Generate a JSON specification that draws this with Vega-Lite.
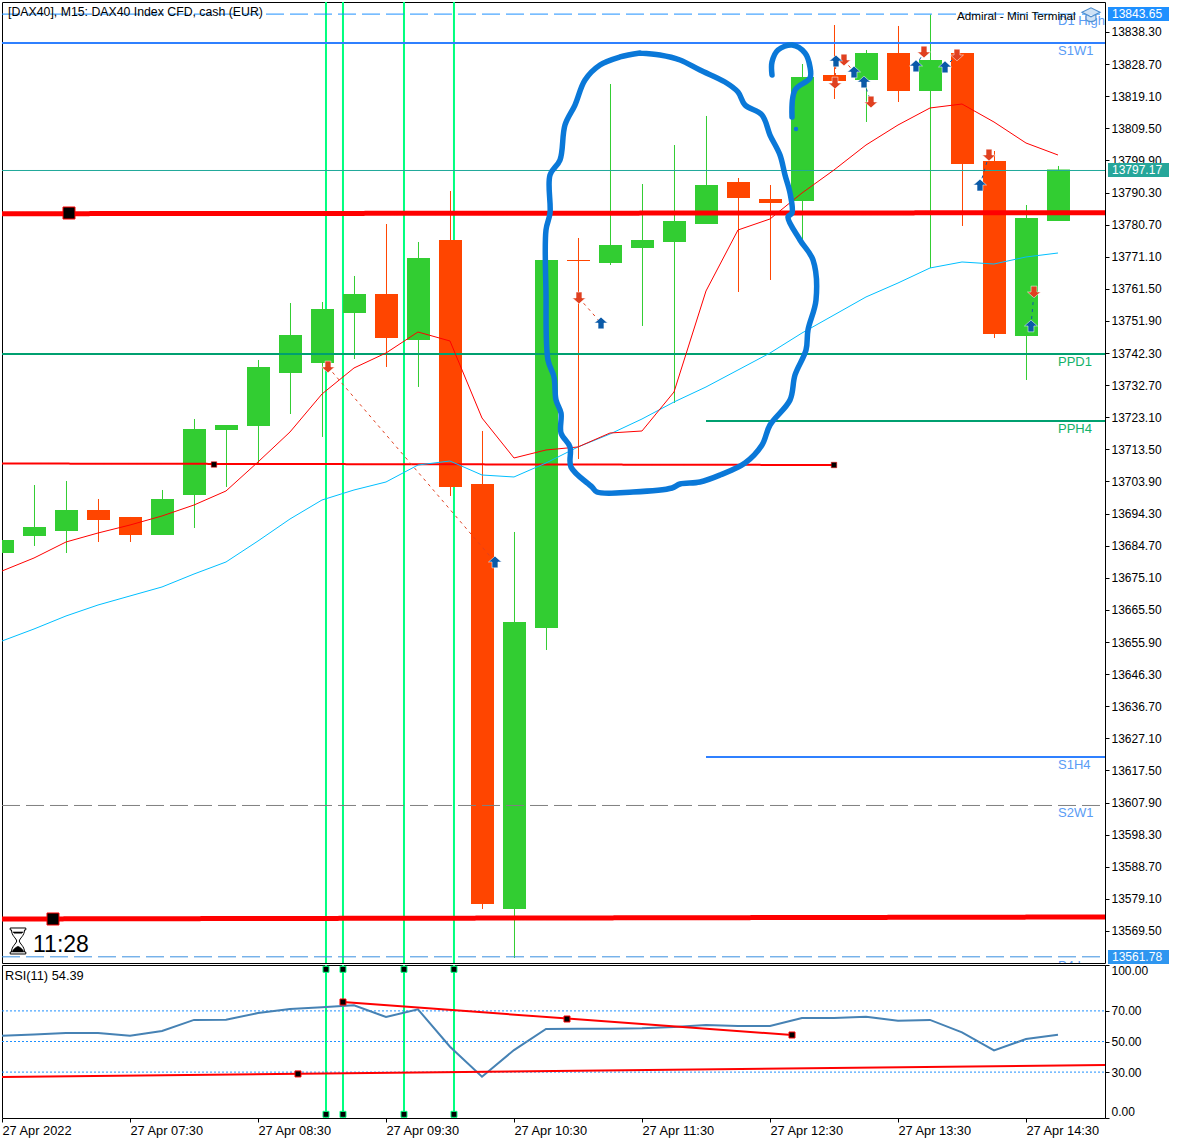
{
"$schema":"https://vega.github.io/schema/vega-lite/v6.json",
"padding":{"left":-3,"top":1,"right":0,"bottom":0},
"background":"white",
"bounds":"flush",
"spacing":2,
"config":{"view":{"stroke":"#000","strokeWidth":1},"font":"Liberation Sans","text":{"font":"Liberation Sans"}},
"datasets":{
"candles":[
{"t":"2022-04-27T06:30:00","dir":"up","o":13682.52,"c":13686.41,"h":13686.41,"l":13682.52},
{"t":"2022-04-27T06:45:00","dir":"up","o":13687.61,"c":13690.30,"h":13702.85,"l":13684.62},
{"t":"2022-04-27T07:00:00","dir":"up","o":13689.10,"c":13695.38,"h":13704.05,"l":13682.52},
{"t":"2022-04-27T07:15:00","dir":"down","o":13695.38,"c":13692.39,"h":13698.67,"l":13685.81},
{"t":"2022-04-27T07:30:00","dir":"down","o":13693.29,"c":13687.90,"h":13693.29,"l":13685.81},
{"t":"2022-04-27T07:45:00","dir":"up","o":13687.90,"c":13698.67,"h":13701.36,"l":13687.90},
{"t":"2022-04-27T08:00:00","dir":"up","o":13699.86,"c":13719.60,"h":13722.59,"l":13690.00},
{"t":"2022-04-27T08:15:00","dir":"up","o":13719.30,"c":13720.79,"h":13720.79,"l":13702.26},
{"t":"2022-04-27T08:30:00","dir":"up","o":13720.50,"c":13738.14,"h":13740.23,"l":13708.83},
{"t":"2022-04-27T08:45:00","dir":"up","o":13736.34,"c":13747.70,"h":13757.27,"l":13724.08},
{"t":"2022-04-27T09:00:00","dir":"up","o":13739.33,"c":13755.48,"h":13757.57,"l":13717.21},
{"t":"2022-04-27T09:15:00","dir":"up","o":13754.28,"c":13759.96,"h":13765.35,"l":13740.53},
{"t":"2022-04-27T09:30:00","dir":"down","o":13759.96,"c":13746.81,"h":13780.89,"l":13738.14},
{"t":"2022-04-27T09:45:00","dir":"up","o":13746.21,"c":13770.73,"h":13775.51,"l":13732.16},
{"t":"2022-04-27T10:00:00","dir":"down","o":13776.11,"c":13702.26,"h":13790.76,"l":13699.57},
{"t":"2022-04-27T10:15:00","dir":"down","o":13703.15,"c":13577.57,"h":13719.00,"l":13576.08},
{"t":"2022-04-27T10:30:00","dir":"up","o":13576.08,"c":13661.89,"h":13688.80,"l":13561.43},
{"t":"2022-04-27T10:45:00","dir":"up","o":13660.10,"c":13770.13,"h":13770.13,"l":13653.52},
{"t":"2022-04-27T11:00:00","dir":"down","o":13770.13,"c":13769.83,"h":13776.71,"l":13710.63},
{"t":"2022-04-27T11:15:00","dir":"up","o":13769.23,"c":13774.61,"h":13822.75,"l":13768.63},
{"t":"2022-04-27T11:30:00","dir":"up","o":13773.72,"c":13776.11,"h":13792.85,"l":13750.40},
{"t":"2022-04-27T11:45:00","dir":"up","o":13775.51,"c":13781.79,"h":13804.51,"l":13727.37},
{"t":"2022-04-27T12:00:00","dir":"up","o":13780.89,"c":13792.55,"h":13813.19,"l":13780.89},
{"t":"2022-04-27T12:15:00","dir":"down","o":13793.45,"c":13788.67,"h":13794.65,"l":13760.56},
{"t":"2022-04-27T12:30:00","dir":"down","o":13788.37,"c":13787.17,"h":13792.55,"l":13764.15},
{"t":"2022-04-27T12:45:00","dir":"up","o":13787.77,"c":13824.85,"h":13828.73,"l":13776.11},
{"t":"2022-04-27T13:00:00","dir":"down","o":13825.44,"c":13823.65,"h":13840.39,"l":13818.27},
{"t":"2022-04-27T13:15:00","dir":"up","o":13823.95,"c":13832.02,"h":13832.92,"l":13811.39},
{"t":"2022-04-27T13:30:00","dir":"down","o":13832.02,"c":13820.66,"h":13840.10,"l":13817.37},
{"t":"2022-04-27T13:45:00","dir":"up","o":13820.66,"c":13829.93,"h":13843.53,"l":13767.74},
{"t":"2022-04-27T14:00:00","dir":"down","o":13832.02,"c":13798.83,"h":13832.02,"l":13780.30},
{"t":"2022-04-27T14:15:00","dir":"down","o":13799.73,"c":13748.00,"h":13802.72,"l":13746.81},
{"t":"2022-04-27T14:30:00","dir":"up","o":13747.41,"c":13782.69,"h":13786.57,"l":13734.25},
{"t":"2022-04-27T14:45:00","dir":"up","o":13781.79,"c":13797.17,"h":13798.24,"l":13781.79}
],
"ma":[
{"t":"2022-04-27T06:30:00","fast":13677.14,"slow":13656.21},
{"t":"2022-04-27T06:45:00","fast":13681.03,"slow":13659.80},
{"t":"2022-04-27T07:00:00","fast":13685.81,"slow":13663.69},
{"t":"2022-04-27T07:15:00","fast":13688.50,"slow":13666.97},
{"t":"2022-04-27T07:30:00","fast":13690.89,"slow":13669.67},
{"t":"2022-04-27T07:45:00","fast":13693.59,"slow":13672.36},
{"t":"2022-04-27T08:00:00","fast":13696.87,"slow":13676.24},
{"t":"2022-04-27T08:15:00","fast":13701.06,"slow":13679.83},
{"t":"2022-04-27T08:30:00","fast":13709.73,"slow":13686.11},
{"t":"2022-04-27T08:45:00","fast":13718.70,"slow":13692.69},
{"t":"2022-04-27T09:00:00","fast":13730.06,"slow":13698.37},
{"t":"2022-04-27T09:15:00","fast":13737.84,"slow":13701.36},
{"t":"2022-04-27T09:30:00","fast":13742.32,"slow":13703.75},
{"t":"2022-04-27T09:45:00","fast":13748.60,"slow":13708.83},
{"t":"2022-04-27T10:00:00","fast":13745.91,"slow":13710.03},
{"t":"2022-04-27T10:15:00","fast":13722.89,"slow":13705.84},
{"t":"2022-04-27T10:30:00","fast":13710.93,"slow":13705.25},
{"t":"2022-04-27T10:45:00","fast":13713.32,"slow":13709.43},
{"t":"2022-04-27T11:00:00","fast":13714.22,"slow":13714.22},
{"t":"2022-04-27T11:15:00","fast":13718.40,"slow":13718.10},
{"t":"2022-04-27T11:30:00","fast":13719.00,"slow":13722.59},
{"t":"2022-04-27T11:45:00","fast":13730.66,"slow":13727.67},
{"t":"2022-04-27T12:00:00","fast":13760.86,"slow":13732.16},
{"t":"2022-04-27T12:15:00","fast":13779.10,"slow":13737.24},
{"t":"2022-04-27T12:30:00","fast":13782.39,"slow":13742.32},
{"t":"2022-04-27T12:45:00","fast":13790.16,"slow":13748.30},
{"t":"2022-04-27T13:00:00","fast":13797.04,"slow":13753.68},
{"t":"2022-04-27T13:15:00","fast":13804.51,"slow":13759.07},
{"t":"2022-04-27T13:30:00","fast":13810.49,"slow":13763.25},
{"t":"2022-04-27T13:45:00","fast":13815.58,"slow":13767.74},
{"t":"2022-04-27T14:00:00","fast":13816.77,"slow":13769.53},
{"t":"2022-04-27T14:15:00","fast":13811.39,"slow":13768.93},
{"t":"2022-04-27T14:30:00","fast":13805.11,"slow":13771.03},
{"t":"2022-04-27T14:45:00","fast":13801.52,"slow":13772.22}
],
"levels":[
{"level":"D1 High","t":"2022-04-27T06:30:00","p":13843.65},{"level":"D1 High","t":"2022-04-27T15:07:02","p":13843.65},
{"level":"S1W1","t":"2022-04-27T06:30:00","p":13835.01},{"level":"S1W1","t":"2022-04-27T15:07:02","p":13835.01},
{"level":"Last","t":"2022-04-27T06:30:00","p":13796.89},{"level":"Last","t":"2022-04-27T15:07:02","p":13796.89},
{"level":"Upper trend","t":"2022-04-27T06:30:00","p":13783.97},{"level":"Upper trend","t":"2022-04-27T15:07:02","p":13784.27},
{"level":"PPD1","t":"2022-04-27T06:30:00","p":13742.02},{"level":"PPD1","t":"2022-04-27T15:07:02","p":13742.02},
{"level":"PPH4","t":"2022-04-27T12:00:00","p":13721.99},{"level":"PPH4","t":"2022-04-27T15:07:02","p":13721.99},
{"level":"S1H4","t":"2022-04-27T12:00:00","p":13621.53},{"level":"S1H4","t":"2022-04-27T15:07:02","p":13621.53},
{"level":"S2W1","t":"2022-04-27T06:30:00","p":13607.03},{"level":"S2W1","t":"2022-04-27T15:04:41","p":13607.03},
{"level":"Lower trend","t":"2022-04-27T06:30:00","p":13573.09},{"level":"Lower trend","t":"2022-04-27T15:07:02","p":13573.69},
{"level":"Mid trend","t":"2022-04-27T06:30:00","p":13709.28},{"level":"Mid trend","t":"2022-04-27T13:00:00","p":13708.83},
{"level":"D1 Low","t":"2022-04-27T06:30:00","p":13561.78},{"level":"D1 Low","t":"2022-04-27T15:07:02","p":13561.78}
],
"levelLabels":[
{"text":"D1 High","kind":"blue","t":"2022-04-27T14:45:00","p":13841.7},
{"text":"S1W1","kind":"blue","t":"2022-04-27T14:45:00","p":13832.6},
{"text":"PPD1","kind":"green","t":"2022-04-27T14:45:00","p":13739.6},
{"text":"PPH4","kind":"green","t":"2022-04-27T14:45:00","p":13719.6},
{"text":"S1H4","kind":"blue","t":"2022-04-27T14:45:00","p":13619.1},
{"text":"S2W1","kind":"blue","t":"2022-04-27T14:45:00","p":13604.8},
{"text":"P4 L","kind":"blue","t":"2022-04-27T14:45:00","p":13558.9}
],
"anchors":[
{"kind":"big","t":"2022-04-27T07:01:24","p":13784.18},
{"kind":"big","t":"2022-04-27T06:53:54","p":13573.09},
{"kind":"small","t":"2022-04-27T08:09:22","p":13708.98},
{"kind":"small","t":"2022-04-27T13:00:00","p":13708.83}
],
"events":[
{"id":"e1","t":"2022-04-27T09:01:52","p":13559.93,"v":0},{"id":"e1","t":"2022-04-27T09:01:52","p":13847.27,"v":100},
{"id":"e2","t":"2022-04-27T09:09:50","p":13559.93,"v":0},{"id":"e2","t":"2022-04-27T09:09:50","p":13847.27,"v":100},
{"id":"e3","t":"2022-04-27T09:38:26","p":13559.93,"v":0},{"id":"e3","t":"2022-04-27T09:38:26","p":13847.27,"v":100},
{"id":"e4","t":"2022-04-27T10:01:52","p":13559.93,"v":0},{"id":"e4","t":"2022-04-27T10:01:52","p":13847.27,"v":100}
],
"trades":[
{"id":"a","side":"sell","t":"2022-04-27T09:02:49","p":13738.14},{"id":"a","side":"sell","t":"2022-04-27T10:21:05","p":13679.83},
{"id":"b","side":"sell","t":"2022-04-27T11:00:28","p":13758.77},{"id":"b","side":"sell","t":"2022-04-27T11:10:47","p":13751.29},
{"id":"c","side":"sell","t":"2022-04-27T13:00:28","p":13823.05},{"id":"c","side":"sell","t":"2022-04-27T13:00:56","p":13829.63},
{"id":"d","side":"sell","t":"2022-04-27T13:04:41","p":13829.93},{"id":"d","side":"sell","t":"2022-04-27T13:09:23","p":13826.34},
{"id":"e","side":"buy","t":"2022-04-27T13:14:04","p":13823.35},{"id":"e","side":"buy","t":"2022-04-27T13:17:20","p":13817.37},
{"id":"f","side":"buy","t":"2022-04-27T13:38:26","p":13828.14},{"id":"f","side":"buy","t":"2022-04-27T13:42:11","p":13832.32},
{"id":"g","side":"buy","t":"2022-04-27T13:52:02","p":13827.84},{"id":"g","side":"buy","t":"2022-04-27T13:57:39","p":13831.42},
{"id":"h","side":"buy","t":"2022-04-27T14:08:26","p":13792.55},{"id":"h","side":"buy","t":"2022-04-27T14:12:39","p":13801.52},
{"id":"i","side":"buy","t":"2022-04-27T14:32:20","p":13750.40},{"id":"i","side":"buy","t":"2022-04-27T14:33:45","p":13760.56}
],
"arrows":[
{"side":"sell","t":"2022-04-27T09:02:49","p":13738.14},
{"side":"sell","t":"2022-04-27T11:00:28","p":13758.77},
{"side":"sell","t":"2022-04-27T13:00:28","p":13823.05},
{"side":"sell","t":"2022-04-27T13:04:41","p":13829.93},
{"side":"sell","t":"2022-04-27T13:17:20","p":13817.37},
{"side":"sell","t":"2022-04-27T13:42:11","p":13832.32},
{"side":"sell","t":"2022-04-27T13:57:39","p":13831.42},
{"side":"sell","t":"2022-04-27T14:12:39","p":13801.52},
{"side":"sell","t":"2022-04-27T14:33:45","p":13760.56},
{"side":"buy","t":"2022-04-27T10:21:05","p":13679.83},
{"side":"buy","t":"2022-04-27T11:10:47","p":13751.29},
{"side":"buy","t":"2022-04-27T13:00:56","p":13829.63},
{"side":"buy","t":"2022-04-27T13:09:23","p":13826.34},
{"side":"buy","t":"2022-04-27T13:14:04","p":13823.35},
{"side":"buy","t":"2022-04-27T13:38:26","p":13828.14},
{"side":"buy","t":"2022-04-27T13:52:02","p":13827.84},
{"side":"buy","t":"2022-04-27T14:08:26","p":13792.55},
{"side":"buy","t":"2022-04-27T14:32:20","p":13750.40}
],
"scribble":[
{"id":"loop","o":1,"t":"2022-04-27T11:29:04","p":13832.02},{"id":"loop","o":2,"t":"2022-04-27T11:38:26","p":13831.42},
{"id":"loop","o":3,"t":"2022-04-27T11:47:49","p":13829.93},{"id":"loop","o":4,"t":"2022-04-27T11:57:11","p":13826.94},
{"id":"loop","o":5,"t":"2022-04-27T12:08:54","p":13823.35},{"id":"loop","o":6,"t":"2022-04-27T12:15:00","p":13820.36},
{"id":"loop","o":7,"t":"2022-04-27T12:18:17","p":13816.47},{"id":"loop","o":8,"t":"2022-04-27T12:26:15","p":13813.48},
{"id":"loop","o":9,"t":"2022-04-27T12:30:00","p":13807.50},{"id":"loop","o":10,"t":"2022-04-27T12:34:41","p":13801.52},
{"id":"loop","o":11,"t":"2022-04-27T12:37:02","p":13795.54},{"id":"loop","o":12,"t":"2022-04-27T12:39:23","p":13790.16},
{"id":"loop","o":13,"t":"2022-04-27T12:40:19","p":13784.18},{"id":"loop","o":14,"t":"2022-04-27T12:38:26","p":13782.99},
{"id":"loop","o":15,"t":"2022-04-27T12:44:04","p":13776.11},{"id":"loop","o":16,"t":"2022-04-27T12:50:09","p":13770.13},
{"id":"loop","o":17,"t":"2022-04-27T12:51:34","p":13758.17},{"id":"loop","o":18,"t":"2022-04-27T12:47:49","p":13749.20},
{"id":"loop","o":19,"t":"2022-04-27T12:46:53","p":13743.22},{"id":"loop","o":20,"t":"2022-04-27T12:41:43","p":13735.74},
{"id":"loop","o":21,"t":"2022-04-27T12:39:23","p":13728.27},{"id":"loop","o":22,"t":"2022-04-27T12:30:00","p":13720.79},
{"id":"loop","o":23,"t":"2022-04-27T12:26:15","p":13714.81},{"id":"loop","o":24,"t":"2022-04-27T12:18:17","p":13709.43},
{"id":"loop","o":25,"t":"2022-04-27T12:06:34","p":13705.84},{"id":"loop","o":26,"t":"2022-04-27T11:57:11","p":13703.75},
{"id":"loop","o":27,"t":"2022-04-27T11:47:49","p":13703.15},{"id":"loop","o":28,"t":"2022-04-27T11:44:04","p":13701.96},
{"id":"loop","o":29,"t":"2022-04-27T11:25:47","p":13700.76},{"id":"loop","o":30,"t":"2022-04-27T11:08:54","p":13700.76},
{"id":"loop","o":31,"t":"2022-04-27T11:06:34","p":13702.26},{"id":"loop","o":32,"t":"2022-04-27T10:56:43","p":13708.24},
{"id":"loop","o":33,"t":"2022-04-27T10:56:15","p":13714.22},{"id":"loop","o":34,"t":"2022-04-27T10:52:02","p":13718.40},
{"id":"loop","o":35,"t":"2022-04-27T10:52:02","p":13724.38},{"id":"loop","o":36,"t":"2022-04-27T10:49:41","p":13728.27},
{"id":"loop","o":37,"t":"2022-04-27T10:48:45","p":13735.15},{"id":"loop","o":38,"t":"2022-04-27T10:45:56","p":13740.23},
{"id":"loop","o":39,"t":"2022-04-27T10:45:00","p":13760.26},{"id":"loop","o":40,"t":"2022-04-27T10:45:00","p":13779.10},
{"id":"loop","o":41,"t":"2022-04-27T10:46:53","p":13784.18},{"id":"loop","o":42,"t":"2022-04-27T10:46:53","p":13795.54},
{"id":"loop","o":43,"t":"2022-04-27T10:51:34","p":13800.03},{"id":"loop","o":44,"t":"2022-04-27T10:53:54","p":13810.49},
{"id":"loop","o":45,"t":"2022-04-27T10:58:35","p":13816.47},{"id":"loop","o":46,"t":"2022-04-27T11:03:17","p":13823.95},
{"id":"loop","o":47,"t":"2022-04-27T11:10:19","p":13828.43},{"id":"loop","o":48,"t":"2022-04-27T11:19:41","p":13830.83},
{"id":"loop","o":49,"t":"2022-04-27T11:29:04","p":13832.02},
{"id":"hook","o":1,"t":"2022-04-27T12:30:56","p":13825.44},{"id":"hook","o":2,"t":"2022-04-27T12:30:56","p":13829.33},
{"id":"hook","o":3,"t":"2022-04-27T12:33:45","p":13832.92},{"id":"hook","o":4,"t":"2022-04-27T12:40:19","p":13834.41},
{"id":"hook","o":5,"t":"2022-04-27T12:46:24","p":13832.02},{"id":"hook","o":6,"t":"2022-04-27T12:48:45","p":13827.84},
{"id":"hook","o":7,"t":"2022-04-27T12:48:45","p":13824.55},{"id":"hook","o":8,"t":"2022-04-27T12:41:43","p":13820.96},
{"id":"hook","o":9,"t":"2022-04-27T12:40:19","p":13812.89}
],
"tags":[
{"kind":"high","label":"13843.65","price":13843.65,"t":"2022-04-27T15:08:26","t2":"2022-04-27T15:37:02","tx":"2022-04-27T15:10:19","p":13841.6,"p2":13845.77},
{"kind":"last","label":"13797.17","price":13797.04,"t":"2022-04-27T15:08:26","t2":"2022-04-27T15:37:02","tx":"2022-04-27T15:10:19","p":13794.95,"p2":13799.13},
{"kind":"low","label":"13561.78","price":13561.78,"t":"2022-04-27T15:08:26","t2":"2022-04-27T15:37:02","tx":"2022-04-27T15:10:19","p":13559.6,"p2":13563.8}
],
"rsi":[
{"t":"2022-04-27T06:30:00","v":53.8},{"t":"2022-04-27T06:45:00","v":54.6},{"t":"2022-04-27T07:00:00","v":55.6},{"t":"2022-04-27T07:15:00","v":55.6},
{"t":"2022-04-27T07:30:00","v":53.8},{"t":"2022-04-27T07:45:00","v":56.9},{"t":"2022-04-27T08:00:00","v":64.1},{"t":"2022-04-27T08:15:00","v":64.25},
{"t":"2022-04-27T08:30:00","v":68.6},{"t":"2022-04-27T08:45:00","v":71.2},{"t":"2022-04-27T09:00:00","v":72.4},{"t":"2022-04-27T09:15:00","v":73.7},
{"t":"2022-04-27T09:30:00","v":66},{"t":"2022-04-27T09:45:00","v":71},{"t":"2022-04-27T10:00:00","v":46.6},{"t":"2022-04-27T10:15:00","v":27},
{"t":"2022-04-27T10:30:00","v":44.4},{"t":"2022-04-27T10:45:00","v":58.2},{"t":"2022-04-27T11:00:00","v":58.3},{"t":"2022-04-27T11:15:00","v":58.4},
{"t":"2022-04-27T11:30:00","v":58.6},{"t":"2022-04-27T11:45:00","v":59.5},{"t":"2022-04-27T12:00:00","v":60.8},{"t":"2022-04-27T12:15:00","v":60.1},
{"t":"2022-04-27T12:30:00","v":60.1},{"t":"2022-04-27T12:45:00","v":65.4},{"t":"2022-04-27T13:00:00","v":65.4},{"t":"2022-04-27T13:15:00","v":66.2},
{"t":"2022-04-27T13:30:00","v":63.6},{"t":"2022-04-27T13:45:00","v":64.1},{"t":"2022-04-27T14:00:00","v":56},{"t":"2022-04-27T14:15:00","v":44.2},
{"t":"2022-04-27T14:30:00","v":51.6},{"t":"2022-04-27T14:45:00","v":54.39}
],
"rsiLevels":[
{"lvl":70,"t":"2022-04-27T06:30:00","v":70},{"lvl":70,"t":"2022-04-27T15:07:02","v":70},
{"lvl":50,"t":"2022-04-27T06:30:00","v":50},{"lvl":50,"t":"2022-04-27T15:07:02","v":50},
{"lvl":30,"t":"2022-04-27T06:30:00","v":30},{"lvl":30,"t":"2022-04-27T15:07:02","v":30}
],
"rsiTrends":[
{"id":"upper","t":"2022-04-27T09:09:50","v":75.8},{"id":"upper","t":"2022-04-27T12:40:19","v":54.25},
{"id":"lower","t":"2022-04-27T06:30:00","v":26.8},{"id":"lower","t":"2022-04-27T15:07:02","v":34.6}
],
"rsiAnchors":[
{"kind":"trend","t":"2022-04-27T09:09:50","v":75.8},{"kind":"trend","t":"2022-04-27T10:54:50","v":64.7},{"kind":"trend","t":"2022-04-27T12:40:19","v":54.25},{"kind":"trend","t":"2022-04-27T08:48:45","v":28.8},
{"kind":"event","t":"2022-04-27T09:01:52","v":97.2},{"kind":"event","t":"2022-04-27T09:09:50","v":97.2},{"kind":"event","t":"2022-04-27T09:38:26","v":97.2},{"kind":"event","t":"2022-04-27T10:01:52","v":97.2},
{"kind":"event","t":"2022-04-27T09:01:52","v":2.4},{"kind":"event","t":"2022-04-27T09:09:50","v":2.4},{"kind":"event","t":"2022-04-27T09:38:26","v":2.4},{"kind":"event","t":"2022-04-27T10:01:52","v":2.4}
]
},
"vconcat":[
{
"width":1103,"height":961,
"encoding":{
"x":{"field":"t","type":"temporal","axis":null,"scale":{"padding":0,"domain":[{"year":2022,"month":4,"date":27,"hours":6,"minutes":30},{"year":2022,"month":4,"date":27,"hours":15,"minutes":7,"seconds":2}]}},
"y":{"field":"p","type":"quantitative","scale":{"domain":[13559.93,13847.27],"nice":false,"zero":false},
"axis":{"orient":"right","title":null,"grid":false,"domain":false,"values":[13838.30,13828.70,13819.10,13809.50,13799.90,13790.30,13780.70,13771.10,13761.50,13751.90,13742.30,13732.70,13723.10,13713.50,13703.90,13694.30,13684.70,13675.10,13665.50,13655.90,13646.30,13636.70,13627.10,13617.50,13607.90,13598.30,13588.70,13579.10,13569.50],"format":".2f","tickSize":4,"tickColor":"#000","labelColor":"#000","labelFont":"Liberation Sans","labelFontSize":12,"labelPadding":2,"labelOverlap":false,"labelBound":false,"labelFlush":false}}
},
"resolve":{"scale":{"color":"independent"}},
"layer":[
{"data":{"name":"events"},"mark":{"type":"line","strokeWidth":2,"color":"#00ff7f","clip":true},"encoding":{"detail":{"field":"id"},"order":{"field":"p"}}},
{"data":{"name":"candles"},"mark":{"type":"rule","strokeWidth":1,"xOffset":0.5,"clip":true},"encoding":{"y":{"field":"l","type":"quantitative"},"y2":{"field":"h"},"color":{"field":"dir","type":"nominal","legend":null,"scale":{"domain":["up","down"],"range":["#32cd32","#ff4500"]}}}},
{"data":{"name":"candles"},"mark":{"type":"bar","size":23,"xOffset":0.5,"clip":true},"encoding":{"y":{"field":"o","type":"quantitative"},"y2":{"field":"c"},"color":{"field":"dir","type":"nominal","legend":null,"scale":{"domain":["up","down"],"range":["#32cd32","#ff4500"]}}}},
{"data":{"name":"levels"},"mark":{"type":"line","clip":true},"encoding":{
"color":{"field":"level","type":"nominal","legend":null,"scale":{"domain":["D1 High","S1W1","Last","Upper trend","PPD1","PPH4","S1H4","S2W1","Lower trend","Mid trend","D1 Low"],"range":["#1e90ff","#2f80ff","#20a89a","#ff0000","#00a070","#00a070","#2f80ff","#808080","#ff0000","#ff0000","#3a8fe0"]}},
"strokeWidth":{"field":"level","type":"nominal","legend":null,"scale":{"type":"ordinal","domain":["D1 High","S1W1","Last","Upper trend","PPD1","PPH4","S1H4","S2W1","Lower trend","Mid trend","D1 Low"],"range":[1,2,1,5,2,2,2,1,5,2,1]}},
"strokeDash":{"field":"level","type":"nominal","legend":null,"scale":{"domain":["D1 High","S1W1","Last","Upper trend","PPD1","PPH4","S1H4","S2W1","Lower trend","Mid trend","D1 Low"],"range":[[18,6],[1,0],[1,0],[1,0],[1,0],[1,0],[1,0],[18,6],[1,0],[1,0],[18,6]]}}
}},
{"data":{"name":"ma"},"mark":{"type":"line","strokeWidth":1,"color":"#00bfff","clip":true},"encoding":{"y":{"field":"slow","type":"quantitative"}}},
{"data":{"name":"ma"},"mark":{"type":"line","strokeWidth":1,"color":"#ff0000","clip":true},"encoding":{"y":{"field":"fast","type":"quantitative"}}},
{"data":{"name":"anchors"},"transform":[{"filter":"datum.kind=='big'"}],"mark":{"type":"point","shape":"square","filled":true,"opacity":1,"fill":"#000","stroke":"#ff0000","strokeWidth":1,"size":144}},
{"data":{"name":"anchors"},"transform":[{"filter":"datum.kind=='small'"}],"mark":{"type":"point","shape":"square","filled":true,"opacity":1,"fill":"#000","stroke":"#ff0000","strokeWidth":0.5,"size":30}},
{"data":{"name":"trades"},"mark":{"type":"line","strokeWidth":1,"strokeDash":[3,4],"clip":true},"encoding":{"detail":{"field":"id"},"color":{"field":"side","type":"nominal","legend":null,"scale":{"domain":["sell","buy"],"range":["#e04020","#0a5aa8"]}}}},
{"data":{"name":"arrows"},"mark":{"type":"point","filled":true,"opacity":1,"stroke":"#ffffff","strokeWidth":0.5,"size":170},"encoding":{
"fill":{"field":"side","type":"nominal","legend":null,"scale":{"domain":["sell","buy"],"range":["#e04020","#0a5aa8"]}},
"shape":{"field":"side","type":"nominal","legend":null,"scale":{"domain":["sell","buy"],"range":["M0,0.9 L1,0 L0.45,0 L0.45,-0.9 L-0.45,-0.9 L-0.45,0 L-1,0 Z","M0,-0.9 L1,0 L0.45,0 L0.45,0.9 L-0.45,0.9 L-0.45,0 L-1,0 Z"]}}
}},
{"data":{"name":"scribble"},"mark":{"type":"line","strokeWidth":5.5,"color":"#0a78d8","strokeJoin":"round","strokeCap":"round","clip":true,"interpolate":"catmull-rom"},"encoding":{"detail":{"field":"id"},"order":{"field":"o"}}},
{"data":{"values":[{"t":"2022-04-27T12:42:11","p":13809.30}]},"mark":{"type":"point","filled":true,"opacity":1,"color":"#0a78d8","size":20}},
{"data":{"name":"levelLabels"},"mark":{"type":"text","align":"left","baseline":"middle","fontSize":13,"font":"Liberation Sans","clip":true},"encoding":{"text":{"field":"text"},"color":{"field":"kind","type":"nominal","legend":null,"scale":{"domain":["blue","green"],"range":["#5a9cf5","#12b26a"]}}}},
{"data":{"values":[{"text":"[DAX40], M15:  DAX40 Index CFD, cash (EUR)","t":"2022-04-27T06:32:49","p":13844.28}]},"mark":{"type":"text","align":"left","baseline":"middle","fontSize":12.3,"font":"Liberation Sans","color":"#000"},"encoding":{"text":{"field":"text"}}},
{"data":{"values":[{"text":"Admiral - Mini Terminal","t":"2022-04-27T13:57:39","p":13843.09}]},"mark":{"type":"text","align":"left","baseline":"middle","fontSize":11.7,"font":"Liberation Sans","color":"#000"},"encoding":{"text":{"field":"text"}}},
{"data":{"values":[{"t":"2022-04-27T15:00:28","p":13843.38}]},"mark":{"type":"point","shape":"M-1,-0.3 L0,-0.8 L1,-0.3 L0,0.2 Z M-0.55,0 L-0.55,0.5 C-0.3,0.8 0.3,0.8 0.55,0.5 L0.55,0","filled":false,"opacity":1,"stroke":"#4f8fd0","strokeWidth":1.2,"fill":"#cfe2f5","size":324}},
{"data":{"values":[{"t":"2022-04-27T06:37:30","p":13566.51}]},"mark":{"type":"point","shape":"M-0.6,-1 L0.6,-1 L0.6,-0.85 L0.5,-0.85 C0.5,-0.4 0.12,-0.2 0.1,0 C0.12,0.2 0.5,0.4 0.5,0.85 L0.6,0.85 L0.6,1 L-0.6,1 L-0.6,0.85 L-0.5,0.85 C-0.5,0.4 -0.12,0.2 -0.1,0 C-0.12,-0.2 -0.5,-0.4 -0.5,-0.85 L-0.6,-0.85 Z","filled":true,"opacity":1,"fill":"#ffffff","stroke":"#000","strokeWidth":1,"size":676}},
{"data":{"values":[{"t":"2022-04-27T06:37:30","p":13566.51}]},"mark":{"type":"point","shape":"M-0.45,0.85 C-0.4,0.6 -0.1,0.45 0,0.4 C0.1,0.45 0.4,0.6 0.45,0.85 Z M-0.4,-0.7 L0.4,-0.7 L0.3,-0.6 L-0.3,-0.6 Z","filled":true,"opacity":1,"fill":"#000","stroke":"#000","strokeWidth":0.5,"size":676}},
{"data":{"values":[{"text":"11:28","t":"2022-04-27T06:44:32","p":13565.31}]},"mark":{"type":"text","align":"left","baseline":"middle","fontSize":23,"font":"Liberation Sans","color":"#000"},"encoding":{"text":{"field":"text"}}},
{"data":{"name":"tags"},"mark":{"type":"rect"},"encoding":{"x2":{"field":"t2"},"y2":{"field":"p2"},"color":{"field":"kind","type":"nominal","legend":null,"scale":{"domain":["high","last","low"],"range":["#1e90ff","#26a69a","#2e96f0"]}}}},
{"data":{"name":"tags"},"mark":{"type":"text","align":"left","baseline":"middle","fontSize":12,"font":"Liberation Sans","color":"#ffffff"},"encoding":{"x":{"field":"tx","type":"temporal"},"y":{"field":"price","type":"quantitative"},"text":{"field":"label"}}}
]
},
{
"width":1103,"height":153,
"encoding":{
"x":{"field":"t","type":"temporal","scale":{"domain":[{"year":2022,"month":4,"date":27,"hours":6,"minutes":30},{"year":2022,"month":4,"date":27,"hours":15,"minutes":7,"seconds":2}]},
"axis":{"title":null,"grid":false,"domain":false,"orient":"bottom","values":[{"year":2022,"month":4,"date":27,"hours":6,"minutes":30},{"year":2022,"month":4,"date":27,"hours":7,"minutes":30},{"year":2022,"month":4,"date":27,"hours":8,"minutes":30},{"year":2022,"month":4,"date":27,"hours":9,"minutes":30},{"year":2022,"month":4,"date":27,"hours":10,"minutes":30},{"year":2022,"month":4,"date":27,"hours":11,"minutes":30},{"year":2022,"month":4,"date":27,"hours":12,"minutes":30},{"year":2022,"month":4,"date":27,"hours":13,"minutes":30},{"year":2022,"month":4,"date":27,"hours":14,"minutes":30}],"labelExpr":"timeFormat(datum.value,'%H:%M')=='06:30' ? '27 Apr 2022' : timeFormat(datum.value,'27 Apr  %H:%M')","labelAlign":"left","labelBaseline":"top","labelPadding":2,"tickSize":4,"tickColor":"#000","labelColor":"#000","labelFont":"Liberation Sans","labelFontSize":12.8,"labelOverlap":false,"labelBound":false,"labelFlush":false}},
"y":{"field":"v","type":"quantitative","scale":{"domain":[0,100],"nice":false},
"axis":{"orient":"right","title":null,"grid":false,"domain":false,"values":[0,30,50,70,100],"format":".2f","tickSize":4,"tickColor":"#000","labelColor":"#000","labelFont":"Liberation Sans","labelFontSize":12,"labelPadding":2,"labelOverlap":false,"labelBound":false,"labelFlush":false,"labelBaseline":{"condition":[{"test":"datum.value==100","value":"top"},{"test":"datum.value==0","value":"bottom"}],"value":"middle"}}}
},
"layer":[
{"data":{"name":"events"},"mark":{"type":"line","strokeWidth":2,"color":"#00ff7f","clip":true},"encoding":{"detail":{"field":"id"},"order":{"field":"v"}}},
{"data":{"name":"rsiLevels"},"mark":{"type":"line","strokeWidth":1,"color":"#1e90ff","strokeDash":[2,2]},"encoding":{"detail":{"field":"lvl"}}},
{"data":{"name":"rsi"},"mark":{"type":"line","strokeWidth":2,"color":"#4682b4"}},
{"data":{"name":"rsiTrends"},"mark":{"type":"line","strokeWidth":2,"color":"#ff0000"},"encoding":{"detail":{"field":"id"}}},
{"data":{"name":"rsiAnchors"},"mark":{"type":"point","shape":"square","filled":true,"opacity":1,"fill":"#000","strokeWidth":1,"size":36},"encoding":{"stroke":{"field":"kind","type":"nominal","legend":null,"scale":{"domain":["trend","event"],"range":["#ff0000","#00ff7f"]}}}},
{"data":{"values":[{"text":"RSI(11) 54.39","t":"2022-04-27T06:31:24","v":92.8}]},"mark":{"type":"text","align":"left","baseline":"middle","fontSize":12.8,"font":"Liberation Sans","color":"#000"},"encoding":{"text":{"field":"text"}}}
]
}
]
}
